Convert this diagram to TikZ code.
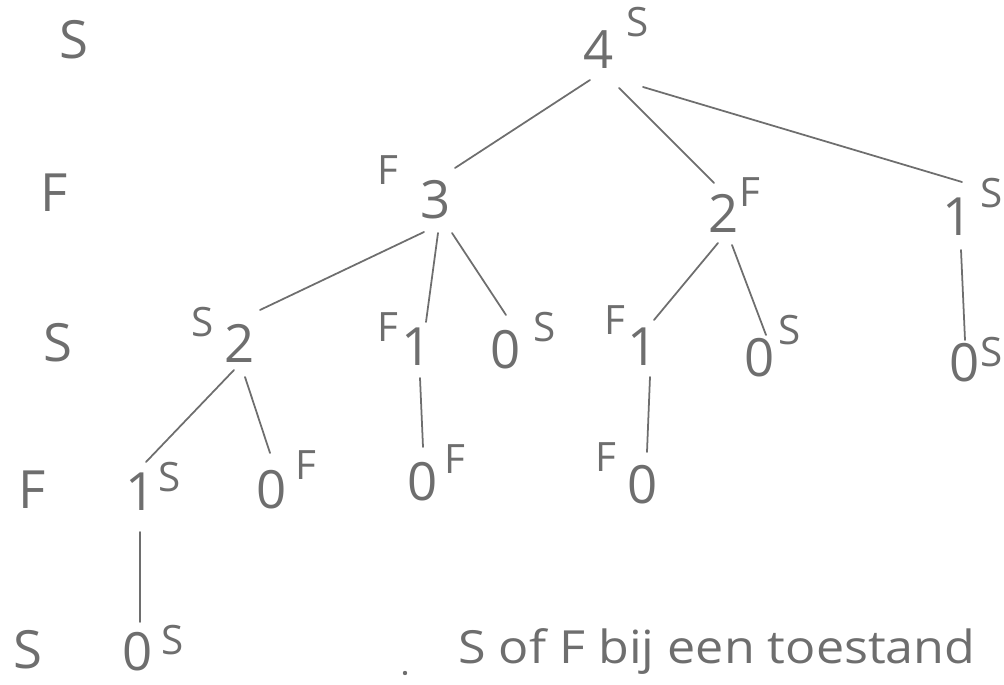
\documentclass[tikz,border=0pt]{standalone}
\usepackage{fontspec}
\setmainfont{Open Sans}
\definecolor{inkgray}{HTML}{6E6E6E}
\begin{document}
\begin{tikzpicture}[x=0.02cm,y=-0.02cm,
  ink/.style={draw=inkgray, line width=1pt, line cap=round},
  big/.style={text=inkgray, font=\fontsize{30}{36}\selectfont, inner sep=0pt},
  tag/.style={text=inkgray, font=\fontsize{23}{27}\selectfont, inner sep=0pt},
  note/.style={text=inkgray, font=\fontsize{26}{30}\selectfont, inner sep=0pt, xscale=1.1}
]
\useasboundingbox (0,0) rectangle (1004,685);

% outcome per level
\node[big] (rowA) at (74,40)  {S};
\node[big] (rowB) at (54,193) {F};
\node[big] (rowC) at (58,343) {S};
\node[big] (rowD) at (32,490) {F};
\node[big] (rowE) at (28,650) {S};

% states of the tree
\node[big] (a) at (599,50)  {4};
\node[big] (b) at (436,200) {3};
\node[big] (c) at (724,213) {2};
\node[big] (d) at (958,217) {1};
\node[big] (e) at (240,343) {2};
\node[big] (f) at (417,347) {1};
\node[big] (g) at (506,350) {0};
\node[big] (h) at (643,347) {1};
\node[big] (i) at (760,358) {0};
\node[big] (j) at (965,363) {0};
\node[big] (k) at (141,492) {1};
\node[big] (l) at (272,490) {0};
\node[big] (m) at (423,482) {0};
\node[big] (n) at (643,485) {0};
\node[big] (o) at (138,652) {0};

% S / F marks beside the states
\node[tag] (as) at (638,22)  {S};
\node[tag] (bs) at (388,170) {F};
\node[tag] (cs) at (750,192) {F};
\node[tag] (ds) at (992,193) {S};
\node[tag] (es) at (203,322) {S};
\node[tag] (fs) at (388,327) {F};
\node[tag] (gs) at (545,327) {S};
\node[tag] (hs) at (615,320) {F};
\node[tag] (is) at (790,330) {S};
\node[tag] (js) at (992,352) {S};
\node[tag] (ks) at (170,477) {S};
\node[tag] (ls) at (306,465) {F};
\node[tag] (ms) at (455,459) {F};
\node[tag] (ns) at (606,457) {F};
\node[tag] (os) at (173,640) {S};

% branches
\draw[ink] ([shift={(-9,30)}]a.center) -- ([shift={(19,-32)}]b.center);
\draw[ink] ([shift={(20,38)}]a.center) -- ([shift={(-10,-30)}]c.center);
\draw[ink] ([shift={(44,37)}]a.center) -- ([shift={(4,-35)}]d.center);
\draw[ink] ([shift={(-12,32)}]b.center) -- ([shift={(20,-33)}]e.center);
\draw[ink] ([shift={(2,33)}]b.center) -- ([shift={(9,-25)}]f.center);
\draw[ink] ([shift={(16,33)}]b.center) -- ([shift={(0,-35)}]g.center);
\draw[ink] ([shift={(-6,30)}]c.center) -- ([shift={(11,-27)}]h.center);
\draw[ink] ([shift={(8,32)}]c.center) -- ([shift={(6,-23)}]i.center);
\draw[ink] ([shift={(3,33)}]d.center) -- ([shift={(0,-23)}]j.center);
\draw[ink] ([shift={(-6,27)}]e.center) -- ([shift={(5,-30)}]k.center);
\draw[ink] ([shift={(5,34)}]e.center) -- ([shift={(-2,-37)}]l.center);
\draw[ink] ([shift={(3,31)}]f.center) -- ([shift={(0,-35)}]m.center);
\draw[ink] ([shift={(7,30)}]h.center) -- ([shift={(4,-33)}]n.center);
\draw[ink] ([shift={(-1,40)}]k.center) -- ([shift={(2,-30)}]o.center);

% caption
\node[note, anchor=west] (cap) at (458,652) {S of F bij een toestand};
\node[circle, fill=inkgray, inner sep=0pt, minimum size=2.5pt] (dot) at (405,673) {};
\end{tikzpicture}
\end{document}
